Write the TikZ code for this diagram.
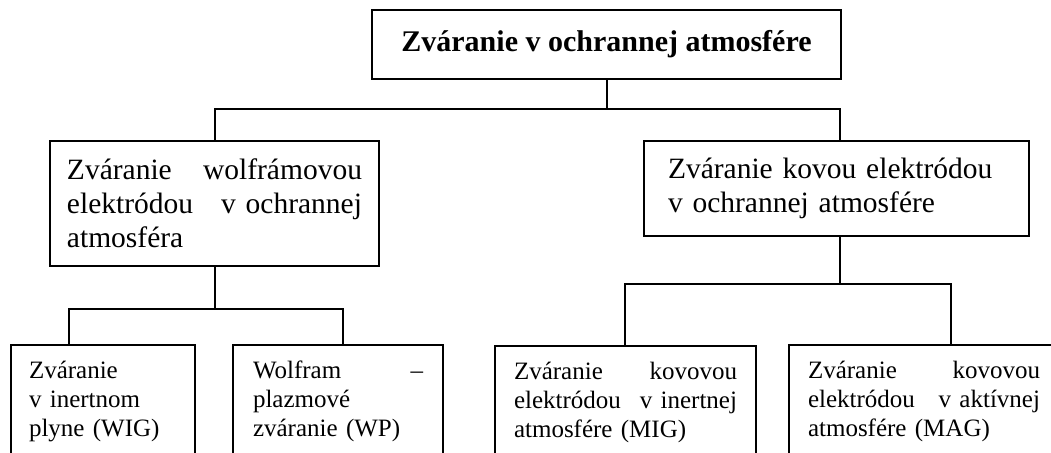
\documentclass[tikz,border=0pt]{standalone}
\usepackage{fontspec}
\setmainfont{Liberation Serif}
\tikzset{box/.style={draw=black,line width=1pt,inner ysep=0pt},
         topbox/.style={box,font=\fontsize{15}{18}\selectfont\bfseries,
                        minimum width=234.5pt,minimum height=34.5pt},
         midbox/.style={box,font=\fontsize{14.75}{17}\selectfont,align=left},
         lowbox/.style={box,font=\fontsize{12.5}{14.5}\selectfont,align=left,
                        anchor=north west,inner ysep=8pt,text depth=60pt},
         link/.style={draw=black,line width=1pt}}

\begin{document}
\begin{tikzpicture}[x=0.5pt,y=-0.5pt]
  \useasboundingbox (0,0) rectangle (1051,452);
  % top level
  \node[topbox] (weld) at (606.5,44.5) {Zváranie v ochrannej atmosfére};
  % second level
  \node[midbox,text width=147.5pt,inner xsep=8.5pt,minimum height=62.5pt] (tig) at (214.5,203.5)
    {Zváranie\hfill wolfrámovou\\elektródou\hfill v ochrannej\\atmosféra};
  \node[midbox,text width=168.5pt,inner xsep=12pt,minimum height=47.5pt] (gma) at (836.5,188.5)
    {Zváranie kovou elektródou\\v ochrannej atmosfére};
  % third level
  \node[lowbox,text width=74pt,inner xsep=9pt] (wig) at (10,344)
    {Zváranie\\v inertnom\\plyne (WIG)};
  \node[lowbox,text width=85pt,inner xsep=10pt] (wp) at (232,344)
    {Wolfram\hfill –\\plazmové\\zváranie (WP)};
  \node[lowbox,text width=111.5pt,inner xsep=9.5pt] (mig) at (494,345)
    {Zváranie\hfill kovovou\\elektródou\hfill v inertnej\\atmosfére (MIG)};
  \node[lowbox,text width=116pt,inner xsep=9.5pt] (mag) at (788,344)
    {Zváranie\hfill kovovou\\elektródou\hfill v aktívnej\\atmosfére (MAG)};
  % connectors
  \draw[link] (weld.south) -- ++(0,29) -| (tig.north);
  \draw[link] (weld.south) ++(0,29) -| ([xshift=1.75pt]gma.north);
  \draw[link] (tig.south) -- ++(0,42) -| ([xshift=29.5pt]wig.north west);
  \draw[link] (tig.south) ++(0,42) -| ([xshift=55.5pt]wp.north west);
  \draw[link] ([xshift=1.75pt]gma.south) -- ++(0,47) -| ([xshift=65.5pt]mig.north west);
  \draw[link] ([xshift=1.75pt]gma.south) ++(0,47) -| ([xshift=81.5pt]mag.north west);
\end{tikzpicture}
\end{document}
